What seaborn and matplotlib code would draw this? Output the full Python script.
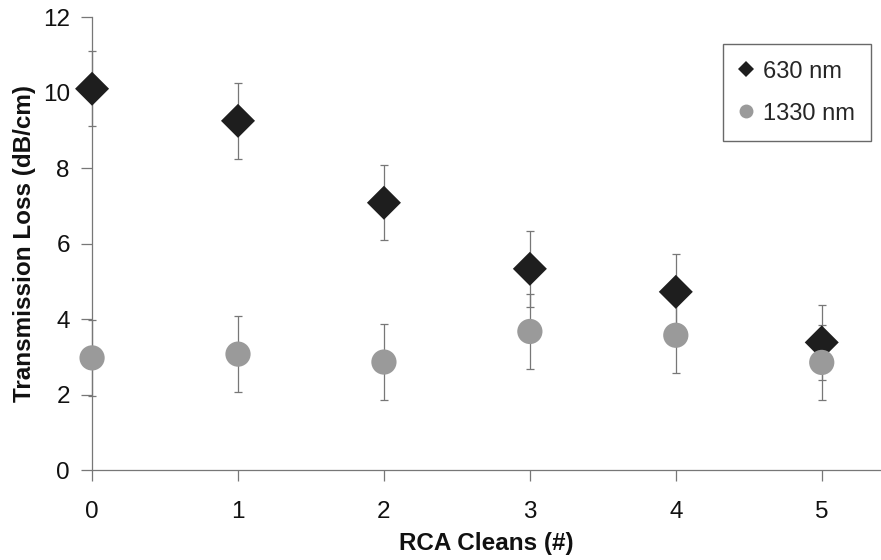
import matplotlib
matplotlib.use("Agg")
import matplotlib.pyplot as plt
from matplotlib.lines import Line2D
import seaborn as sns
import pandas as pd

cleans = [0, 1, 2, 3, 4, 5]
loss_630 = [10.1, 9.25, 7.08, 5.33, 4.72, 3.38]
loss_1330 = [2.97, 3.07, 2.86, 3.67, 3.57, 2.85]
err_630 = [1.0, 1.0, 1.0, 1.0, 1.0, 1.0]
err_1330 = [1.0, 1.0, 1.0, 1.0, 1.0, 1.0]
series_names = ["630 nm", "1330 nm"]
y_ticks = [0, 2, 4, 6, 8, 10, 12]

df = pd.DataFrame({
    "RCA Cleans (#)": cleans * 2,
    "Transmission Loss (dB/cm)": loss_630 + loss_1330,
    "err": err_630 + err_1330,
    "Wavelength": [series_names[0]] * 6 + [series_names[1]] * 6,
})

sns.set_theme(style="white")
plt.rcParams["font.family"] = ["Liberation Sans", "DejaVu Sans"]

fig = plt.figure(figsize=(8.81, 5.6), dpi=100)
ax = fig.add_axes([0.1045, 0.1607, 0.8945, 0.8089])

colors = {"630 nm": "#1e1e1e", "1330 nm": "#9a9a9a"}
markers = {"630 nm": "D", "1330 nm": "o"}
sizes = {"630 nm": 300, "1330 nm": 330}

for name in series_names:
    sub = df[df["Wavelength"] == name]
    eb = ax.errorbar(sub["RCA Cleans (#)"], sub["Transmission Loss (dB/cm)"], yerr=sub["err"],
                     fmt="none", ecolor="#777777", elinewidth=0.9, capsize=3, capthick=0.9, zorder=1)
    for art in eb.lines[1] + eb.lines[2]:
        art.set_clip_on(False)

for name in series_names:
    sub = df[df["Wavelength"] == name]
    sns.scatterplot(data=sub, x="RCA Cleans (#)", y="Transmission Loss (dB/cm)",
                    marker=markers[name], s=sizes[name], color=colors[name],
                    edgecolor="none", linewidth=0, ax=ax, zorder=3, legend=False,
                    clip_on=False)

ax.set_xlim(0, 5.4)
ax.set_ylim(0, 12)
ax.set_xticks(cleans)
ax.set_yticks(y_ticks)
ax.tick_params(axis="x", which="major", direction="out", length=8, width=0.9,
               color="#777777", labelsize=17.5, labelcolor="#111111", pad=14, bottom=True)
ax.tick_params(axis="y", which="major", direction="out", length=8, width=0.9,
               color="#777777", labelsize=17.5, labelcolor="#111111", pad=8, left=True)

for side in ["top", "right"]:
    ax.spines[side].set_visible(False)
for side in ["left", "bottom"]:
    ax.spines[side].set_color("#777777")
    ax.spines[side].set_linewidth(0.9)

ax.set_xlabel("RCA Cleans (#)", fontsize=17.5, fontweight="bold", color="#111111", labelpad=7)
ax.set_ylabel("Transmission Loss (dB/cm)", fontsize=17.5, fontweight="bold", color="#111111", labelpad=5)

handles = [
    Line2D([], [], linestyle="none", marker="D", markersize=8.5, color=colors["630 nm"], markeredgewidth=0),
    Line2D([], [], linestyle="none", marker="o", markersize=10, color=colors["1330 nm"], markeredgewidth=0),
]
leg = ax.legend(handles, series_names, loc="upper left", bbox_to_anchor=(0.8, 0.9404),
                fontsize=17, frameon=True, fancybox=False, edgecolor="#444444",
                handlelength=0.6, handletextpad=0.4, labelspacing=0.85,
                borderpad=0.7, borderaxespad=0)
leg.get_frame().set_linewidth(1.0)

fig.savefig("out.png", dpi=100)
